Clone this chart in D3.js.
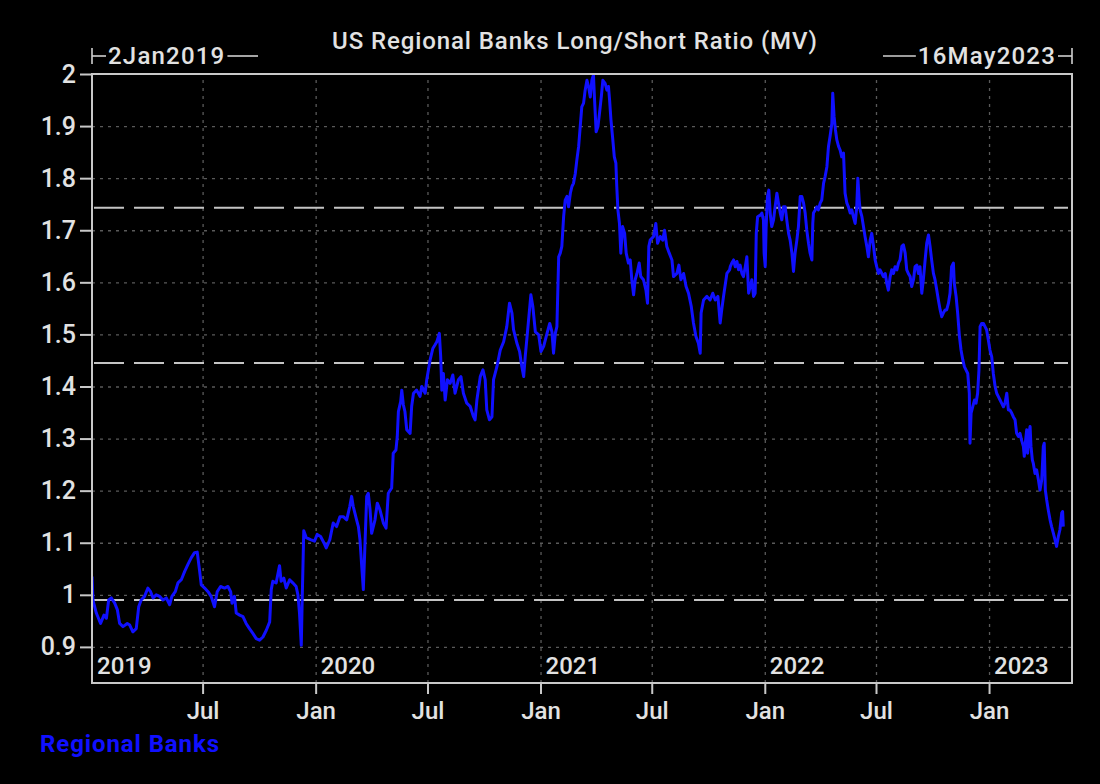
<!DOCTYPE html>
<html><head><meta charset="utf-8">
<script src="https://cdn.jsdelivr.net/npm/d3@7"></script>
<style>html,body{margin:0;background:#000;} svg{display:block;}</style>
</head><body><svg id="chart" width="1100" height="784"></svg>
<script>
// ---------------- data ----------------
const chartTitle = "US Regional Banks Long/Short Ratio (MV)";
const seriesName = "Regional Banks";
const startLabel = "2Jan2019";
const endLabel = "16May2023";
const domainStart = "2019-01-02";
const domainEnd = "2023-05-16";
const yTicks = [0.9, 1.0, 1.1, 1.2, 1.3, 1.4, 1.5, 1.6, 1.7, 1.8, 1.9, 2.0];
const yTickLabels = ["0.9", "1", "1.1", "1.2", "1.3", "1.4", "1.5", "1.6", "1.7", "1.8", "1.9", "2"];
const monthTickDates = ["2019-07-01", "2020-01-01", "2020-07-01", "2021-01-01", "2021-07-01", "2022-01-01", "2022-07-01", "2023-01-01"];
const monthTickLabels = ["Jul", "Jan", "Jul", "Jan", "Jul", "Jan", "Jul", "Jan"];
const yearLabels = ["2019", "2020", "2021", "2022", "2023"];
const refLevels = [1.743, 1.445, 0.99];
// [decimal year, long/short ratio]
const ratioSeries = [
[2019.003,1.035],[2019.007,0.990],[2019.022,0.965],[2019.041,0.945],[2019.056,0.961],[2019.067,0.955],[2019.077,0.990],[2019.089,0.994],[2019.104,0.984],[2019.116,0.971],[2019.126,0.945],[2019.141,0.939],[2019.160,0.945],[2019.171,0.942],[2019.185,0.929],[2019.200,0.935],[2019.211,0.977],[2019.222,0.990],[2019.237,0.997],[2019.252,1.013],[2019.264,1.006],[2019.275,0.994],[2019.289,1.000],[2019.304,0.997],[2019.319,0.990],[2019.334,0.994],[2019.349,0.981],[2019.359,0.997],[2019.374,1.006],[2019.386,1.023],[2019.401,1.029],[2019.416,1.045],[2019.430,1.058],[2019.445,1.071],[2019.460,1.081],[2019.472,1.082],[2019.482,1.048],[2019.490,1.019],[2019.505,1.013],[2019.520,1.006],[2019.534,0.997],[2019.549,0.977],[2019.561,1.006],[2019.576,1.016],[2019.594,1.013],[2019.609,1.016],[2019.621,1.006],[2019.627,0.984],[2019.638,0.997],[2019.646,0.965],[2019.661,0.961],[2019.676,0.958],[2019.690,0.945],[2019.705,0.935],[2019.720,0.926],[2019.735,0.916],[2019.750,0.913],[2019.765,0.919],[2019.780,0.932],[2019.795,0.948],[2019.802,1.010],[2019.809,1.026],[2019.824,1.023],[2019.839,1.056],[2019.846,1.026],[2019.858,1.032],[2019.869,1.013],[2019.884,1.029],[2019.898,1.023],[2019.913,1.016],[2019.921,1.000],[2019.928,0.965],[2019.936,0.903],[2019.940,0.990],[2019.947,1.123],[2019.958,1.110],[2019.977,1.106],[2019.995,1.103],[2020.007,1.116],[2020.022,1.112],[2020.040,1.097],[2020.047,1.090],
[2020.063,1.106],[2020.078,1.138],[2020.093,1.131],[2020.108,1.150],[2020.123,1.150],[2020.138,1.144],[2020.152,1.170],[2020.160,1.189],[2020.167,1.170],[2020.182,1.144],[2020.190,1.131],[2020.197,1.106],[2020.204,1.061],[2020.212,1.010],[2020.219,1.093],[2020.227,1.189],[2020.234,1.195],[2020.242,1.163],[2020.249,1.118],[2020.264,1.144],[2020.274,1.176],[2020.286,1.163],[2020.301,1.138],[2020.313,1.128],[2020.323,1.195],[2020.338,1.205],[2020.345,1.272],[2020.357,1.278],[2020.363,1.304],[2020.368,1.352],[2020.378,1.371],[2020.383,1.393],[2020.390,1.365],[2020.397,1.352],[2020.405,1.317],[2020.420,1.310],[2020.427,1.362],[2020.435,1.387],[2020.449,1.393],[2020.464,1.381],[2020.472,1.400],[2020.487,1.387],[2020.494,1.413],[2020.509,1.451],[2020.521,1.473],[2020.531,1.480],[2020.539,1.486],[2020.550,1.502],[2020.556,1.458],[2020.561,1.393],[2020.568,1.425],[2020.576,1.374],[2020.586,1.413],[2020.598,1.406],[2020.610,1.422],[2020.620,1.387],[2020.635,1.413],[2020.646,1.419],[2020.657,1.387],[2020.672,1.368],[2020.687,1.362],[2020.702,1.342],[2020.709,1.336],[2020.717,1.374],[2020.732,1.419],[2020.744,1.432],[2020.754,1.413],[2020.761,1.355],[2020.773,1.336],[2020.784,1.342],[2020.791,1.413],[2020.806,1.438],[2020.821,1.470],[2020.836,1.486],[2020.850,1.515],[2020.862,1.560],[2020.873,1.541],[2020.880,1.509],[2020.895,1.483],[2020.907,1.467],[2020.917,1.438],[2020.925,1.419],[2020.932,1.458],[2020.943,1.509],[2020.957,1.576],[2020.966,1.553],[2020.977,1.505],[2020.992,1.499],[2021.002,1.467],[2021.014,1.477],[2021.029,1.502],[2021.041,1.521],
[2021.051,1.505],[2021.058,1.464],[2021.066,1.502],[2021.073,1.515],[2021.081,1.649],[2021.088,1.656],[2021.095,1.669],[2021.103,1.726],[2021.110,1.758],[2021.118,1.765],[2021.125,1.745],[2021.133,1.771],[2021.140,1.784],[2021.147,1.790],[2021.155,1.809],[2021.162,1.835],[2021.170,1.861],[2021.177,1.899],[2021.184,1.937],[2021.192,1.944],[2021.199,1.969],[2021.207,1.988],[2021.214,1.976],[2021.222,1.956],[2021.229,1.988],[2021.236,1.998],[2021.241,1.950],[2021.248,1.889],[2021.256,1.899],[2021.263,1.925],[2021.271,1.956],[2021.278,1.988],[2021.288,1.982],[2021.296,1.969],[2021.303,1.976],[2021.308,1.950],[2021.314,1.912],[2021.321,1.880],[2021.329,1.841],[2021.336,1.829],[2021.340,1.784],[2021.345,1.739],[2021.352,1.713],[2021.358,1.656],[2021.366,1.707],[2021.375,1.694],[2021.382,1.656],[2021.392,1.637],[2021.400,1.643],[2021.407,1.605],[2021.415,1.576],[2021.422,1.605],[2021.430,1.617],[2021.440,1.637],[2021.447,1.611],[2021.459,1.605],[2021.470,1.585],[2021.477,1.560],[2021.483,1.669],[2021.489,1.681],[2021.504,1.688],[2021.514,1.713],[2021.522,1.675],[2021.534,1.688],[2021.545,1.681],[2021.553,1.700],[2021.563,1.669],[2021.574,1.656],[2021.586,1.643],[2021.593,1.611],[2021.608,1.617],[2021.617,1.633],[2021.626,1.605],[2021.638,1.617],[2021.649,1.592],[2021.660,1.579],[2021.672,1.554],[2021.682,1.522],[2021.693,1.496],[2021.704,1.483],[2021.712,1.464],[2021.716,1.541],[2021.727,1.566],[2021.742,1.573],[2021.756,1.566],[2021.768,1.579],[2021.779,1.566],[2021.791,1.573],[2021.801,1.522],[2021.808,1.547],[2021.816,1.573],[2021.831,1.617],[2021.843,1.624],
[2021.846,1.630],[2021.853,1.637],[2021.861,1.643],[2021.868,1.630],[2021.876,1.640],[2021.883,1.624],[2021.890,1.633],[2021.898,1.617],[2021.905,1.611],[2021.913,1.630],[2021.920,1.649],[2021.928,1.579],[2021.935,1.592],[2021.942,1.605],[2021.950,1.573],[2021.957,1.579],[2021.962,1.694],[2021.968,1.726],[2021.980,1.729],[2021.987,1.733],[2021.994,1.720],[2021.997,1.656],[2022.002,1.630],[2022.006,1.707],[2022.012,1.765],[2022.018,1.777],[2022.024,1.733],[2022.031,1.707],[2022.039,1.720],[2022.046,1.745],[2022.054,1.771],[2022.061,1.752],[2022.069,1.733],[2022.076,1.720],[2022.083,1.745],[2022.091,1.745],[2022.098,1.720],[2022.106,1.694],[2022.113,1.681],[2022.121,1.656],[2022.128,1.621],[2022.135,1.656],[2022.143,1.681],[2022.150,1.707],[2022.158,1.765],[2022.165,1.765],[2022.173,1.752],[2022.180,1.733],[2022.187,1.701],[2022.195,1.675],[2022.202,1.656],[2022.210,1.643],[2022.214,1.713],[2022.217,1.733],[2022.225,1.739],[2022.232,1.745],[2022.239,1.739],[2022.247,1.752],[2022.254,1.758],[2022.262,1.790],[2022.269,1.803],[2022.277,1.822],[2022.284,1.861],[2022.291,1.880],[2022.299,1.905],[2022.303,1.963],[2022.309,1.918],[2022.315,1.893],[2022.321,1.874],[2022.329,1.861],[2022.336,1.854],[2022.343,1.841],[2022.351,1.848],[2022.358,1.771],[2022.366,1.752],[2022.373,1.745],[2022.381,1.733],[2022.388,1.739],[2022.395,1.726],[2022.403,1.713],[2022.410,1.745],[2022.415,1.800],[2022.421,1.758],[2022.425,1.739],[2022.433,1.726],[2022.440,1.707],[2022.447,1.688],[2022.455,1.669],[2022.462,1.649],[2022.470,1.681],[2022.477,1.694],[2022.485,1.669],[2022.492,1.643],[2022.499,1.630],[2022.507,1.617],[2022.514,1.624],[2022.522,1.617],[2022.529,1.611],[2022.537,1.617],[2022.544,1.598],[2022.551,1.585],[2022.559,1.611],[2022.566,1.624],[2022.574,1.617],[2022.581,1.630],[2022.589,1.624],[2022.596,1.637],
[2022.603,1.643],[2022.611,1.669],[2022.618,1.672],[2022.626,1.656],[2022.633,1.624],[2022.640,1.617],[2022.648,1.611],[2022.655,1.592],[2022.663,1.605],[2022.670,1.630],[2022.678,1.633],[2022.685,1.617],[2022.692,1.630],[2022.700,1.579],[2022.707,1.605],[2022.715,1.643],[2022.722,1.675],[2022.730,1.691],[2022.737,1.669],[2022.744,1.643],[2022.752,1.617],[2022.759,1.605],[2022.767,1.585],[2022.774,1.566],[2022.782,1.547],[2022.789,1.534],[2022.796,1.541],[2022.804,1.547],[2022.811,1.547],[2022.819,1.560],[2022.826,1.579],[2022.833,1.630],[2022.841,1.637],[2022.845,1.598],[2022.853,1.573],[2022.860,1.541],[2022.868,1.496],[2022.875,1.470],[2022.883,1.451],[2022.890,1.438],[2022.897,1.432],[2022.905,1.425],[2022.912,1.387],[2022.915,1.291],[2022.920,1.349],[2022.927,1.361],[2022.935,1.374],[2022.942,1.368],[2022.949,1.387],[2022.955,1.432],[2022.960,1.515],[2022.967,1.521],[2022.975,1.521],[2022.982,1.515],[2022.989,1.509],[2022.997,1.489],[2023.004,1.470],[2023.012,1.457],[2023.019,1.425],[2023.027,1.400],[2023.034,1.387],[2023.041,1.381],[2023.049,1.374],[2023.056,1.368],[2023.064,1.361],[2023.071,1.368],[2023.079,1.387],[2023.086,1.355],[2023.093,1.355],[2023.101,1.349],[2023.108,1.342],[2023.116,1.336],[2023.123,1.310],[2023.131,1.304],[2023.138,1.310],[2023.145,1.297],[2023.153,1.285],[2023.157,1.266],[2023.163,1.297],[2023.168,1.317],[2023.172,1.272],[2023.178,1.310],[2023.183,1.323],[2023.187,1.285],[2023.193,1.259],[2023.197,1.253],[2023.205,1.233],[2023.212,1.240],[2023.220,1.221],[2023.227,1.201],[2023.235,1.221],[2023.242,1.285],[2023.246,1.291],[2023.251,1.201],[2023.257,1.182],[2023.264,1.163],[2023.272,1.144],[2023.279,1.131],[2023.287,1.118],[2023.294,1.106],[2023.301,1.093],[2023.309,1.112],[2023.316,1.125],[2023.324,1.157],[2023.328,1.160],[2023.331,1.131]
];

// ---------------- drawing ----------------
const FONT = "Roboto, 'Noto Sans', sans-serif";
const TXT = "#e2e2e2";
const BLUE = "#1010ff";
const L = 92, R = 1072, T = 74, B = 683;

const parse = d3.utcParse("%Y-%m-%d");
function decYear(t) {
  const y = Math.floor(t);
  const s = Date.UTC(y, 0, 1), e = Date.UTC(y + 1, 0, 1);
  return new Date(s + (t - y) * (e - s));
}
const data = ratioSeries.map(([t, v]) => ({ date: decYear(t), value: v }));

const x = d3.scaleUtc().domain([parse(domainStart), parse(domainEnd)]).range([L, R]);
const y = d3.scaleLinear().domain([0.9, 2.0]).range([646.9, 74]);

const svg = d3.select("#chart");
svg.append("rect").attr("width", 1100).attr("height", 784).attr("fill", "#000");

// grid
const gridY = svg.append("g").attr("transform", `translate(${L},0)`)
  .call(d3.axisLeft(y).tickValues(yTicks.filter(v => v < 2)).tickSize(-(R - L)).tickFormat(""));
gridY.select(".domain").remove();
gridY.selectAll("line").attr("stroke", "#5a5a5a").attr("stroke-width", 1.3).attr("stroke-dasharray", "3,5");

const monthDates = monthTickDates.map(parse);
const gridX = svg.append("g").attr("transform", `translate(0,${B})`)
  .call(d3.axisBottom(x).tickValues(monthDates).tickSize(-(B - T)).tickFormat(""));
gridX.select(".domain").remove();
gridX.selectAll("line").attr("stroke", "#5a5a5a").attr("stroke-width", 1.3).attr("stroke-dasharray", "3,5");

// reference dashed lines
svg.append("g").selectAll("line").data(refLevels).join("line")
  .attr("x1", L + 2).attr("x2", R - 4)
  .attr("y1", d => y(d)).attr("y2", d => y(d))
  .attr("stroke", "#c4c4c4").attr("stroke-width", 2)
  .attr("stroke-dasharray", "30,10");

// series line
svg.append("clipPath").attr("id", "clip").append("rect")
  .attr("x", L).attr("y", T - 1).attr("width", R - L).attr("height", B - T + 1);
svg.append("path").datum(data)
  .attr("clip-path", "url(#clip)")
  .attr("fill", "none").attr("stroke", BLUE).attr("stroke-width", 3)
  .attr("stroke-linejoin", "round")
  .attr("d", d3.line().x(d => x(d.date)).y(d => y(d.value)));

// frame
svg.append("rect").attr("x", L).attr("y", T).attr("width", R - L).attr("height", B - T)
  .attr("fill", "none").attr("stroke", "#c8c8c8").attr("stroke-width", 2);

// y axis
const yAxis = svg.append("g").attr("transform", `translate(${L},0)`)
  .call(d3.axisLeft(y).tickValues(yTicks).tickSize(12).tickPadding(4)
    .tickFormat((d, i) => yTickLabels[i]));
yAxis.select(".domain").remove();
yAxis.selectAll("line").attr("stroke", "#c8c8c8").attr("stroke-width", 2);
yAxis.selectAll("text").attr("fill", TXT).attr("font-family", FONT)
  .attr("font-size", 25).attr("font-weight", 500);

// x axis
const xAxis = svg.append("g").attr("transform", `translate(0,${B})`)
  .call(d3.axisBottom(x).tickValues(monthDates).tickSize(11).tickPadding(8)
    .tickFormat((d, i) => monthTickLabels[i]));
xAxis.select(".domain").remove();
xAxis.selectAll("line").attr("stroke", "#c8c8c8").attr("stroke-width", 2);
xAxis.selectAll("text").attr("fill", TXT).attr("font-family", FONT)
  .attr("font-size", 24).attr("font-weight", 500);

// year labels inside plot
svg.append("g").selectAll("text").data(yearLabels).join("text")
  .attr("x", d => Math.max(x(parse(d + "-01-01")), L) + 5)
  .attr("y", 674)
  .attr("fill", TXT).attr("font-family", FONT).attr("font-size", 24).attr("font-weight", 500)
  .text(d => d);

// title
svg.append("text").attr("x", 575).attr("y", 49).attr("text-anchor", "middle")
  .attr("fill", TXT).attr("font-family", FONT).attr("font-size", 24).attr("font-weight", 500)
  .attr("letter-spacing", 0.9)
  .text(chartTitle);

// start / end range labels
const sLab = svg.append("text").attr("x", 108).attr("y", 64)
  .attr("fill", TXT).attr("font-family", FONT).attr("font-size", 24).attr("font-weight", 500)
  .attr("letter-spacing", 1.2)
  .text(startLabel);
const sEnd = 108 + sLab.node().getComputedTextLength();
const br = svg.append("g").attr("stroke", "#d0d0d0").attr("stroke-width", 1.6);
br.append("line").attr("x1", L).attr("x2", L).attr("y1", 48).attr("y2", 64);
br.append("line").attr("x1", L).attr("x2", 106).attr("y1", 56).attr("y2", 56);
br.append("line").attr("x1", sEnd + 2).attr("x2", 258).attr("y1", 56).attr("y2", 56);

const eLab = svg.append("text").attr("x", 1056).attr("y", 64).attr("text-anchor", "end")
  .attr("fill", TXT).attr("font-family", FONT).attr("font-size", 24).attr("font-weight", 500)
  .attr("letter-spacing", 1.2)
  .text(endLabel);
const eStart = 1056 - eLab.node().getComputedTextLength();
br.append("line").attr("x1", 883).attr("x2", eStart - 2).attr("y1", 56).attr("y2", 56);
br.append("line").attr("x1", 1058).attr("x2", R).attr("y1", 56).attr("y2", 56);
br.append("line").attr("x1", R).attr("x2", R).attr("y1", 48).attr("y2", 64);

// legend
svg.append("text").attr("x", 40).attr("y", 752)
  .attr("fill", BLUE).attr("font-family", FONT).attr("font-size", 24).attr("font-weight", 700)
  .attr("letter-spacing", 0.9)
  .text(seriesName);
</script>
</body></html>
